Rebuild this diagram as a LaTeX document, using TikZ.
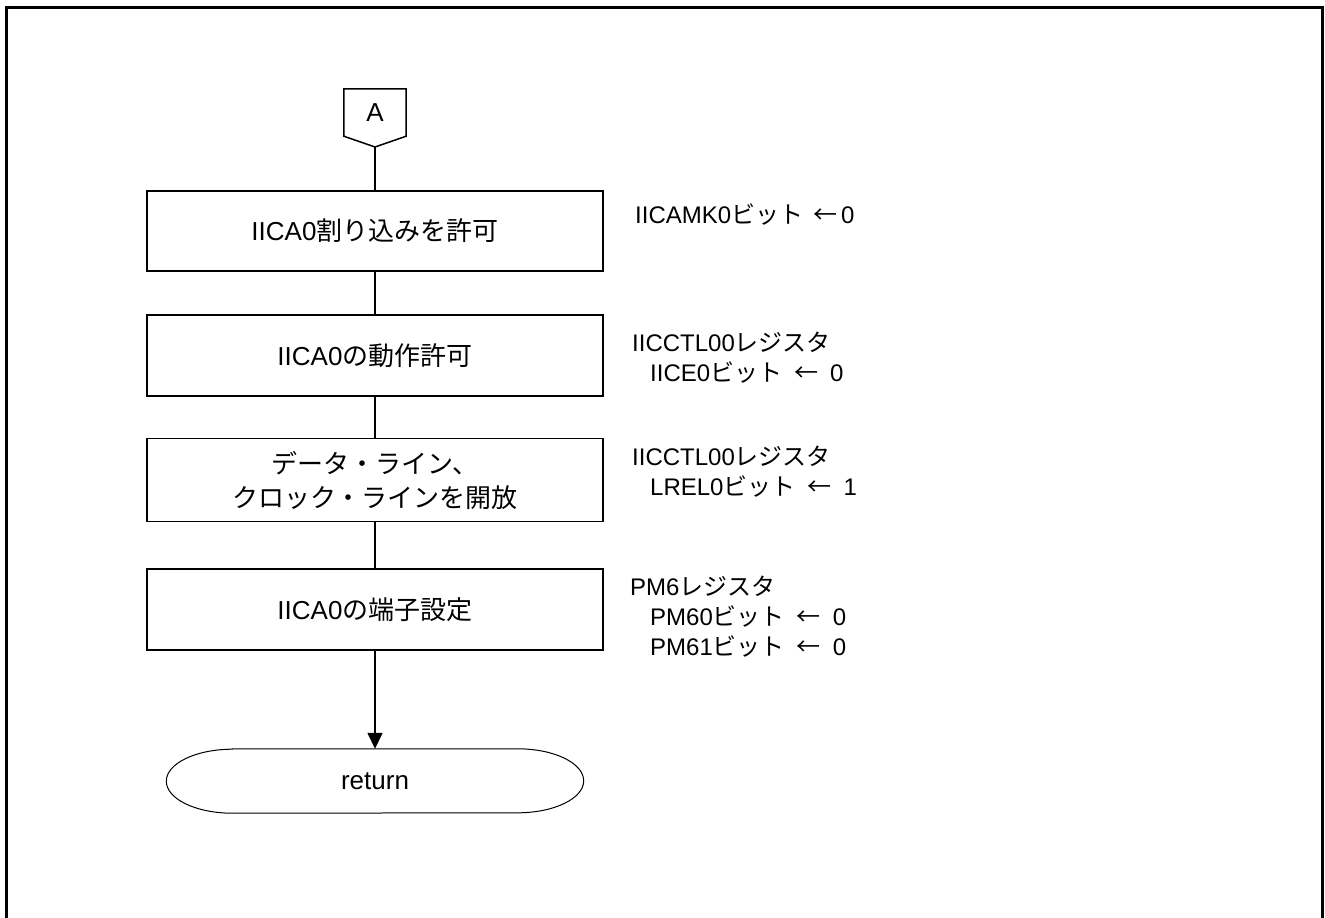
\documentclass[tikz,border=0pt]{standalone}
\usepackage{fontspec}
\setmainfont{Liberation Sans}
\newfontfamily\jp{Noto Sans CJK JP}
\usetikzlibrary{arrows.meta,calc}
\newcommand\J[1]{{\jp #1}}
\newcommand\Arr{\hspace{12pt}\J{←}\hspace{12pt}}
\begin{document}
\begin{tikzpicture}[x=1pt,y=-1pt,
  font=\fontsize{24}{30}\selectfont,
  proc/.style={draw, line width=1.5pt, minimum width=456pt, align=center, inner sep=0pt, font=\fontsize{26}{34}\selectfont},
  note/.style={anchor=west, align=left, inner sep=0pt},
  conn/.style={line width=1.5pt}]
\useasboundingbox (0,0) rectangle (1325,918);
\draw[line width=3pt] (6,930) -- (6,7) -- (1322.5,7) -- (1322.5,930);

% off-page connector A
\node[minimum width=62pt, minimum height=47pt, inner sep=0pt, font=\fontsize{26}{30}\selectfont] (A) at (375,112.5) {A};
\coordinate (Ap) at (375,147);
\draw[line width=1.5pt] (A.south west) -- (A.north west) -- (A.north east) -- (A.south east) -- (Ap) -- cycle;

% process boxes
\node[proc, minimum height=80pt] (b1) at (375,231) {IICA0\J{割り込みを許可}};
\node[proc, minimum height=81pt] (b2) at (375,355.5) {IICA0\J{の動作許可}};
\node[proc, minimum height=83pt] (b3) at (375,480) {\J{データ・ライン、}\\\J{クロック・ラインを開放}};
\node[proc, minimum height=81pt] (b4) at (375,609.5) {IICA0\J{の端子設定}};

% terminal
\node[minimum width=417pt, minimum height=64pt, inner sep=0pt, font=\fontsize{26}{30}\selectfont] (ret) at (375,781) {return};
\draw[line width=1pt] ($(ret.north west)+(66,0)$) -- ($(ret.north east)+(-66,0)$)
  arc[start angle=-90, end angle=90, x radius=66, y radius=32]
  -- ($(ret.south west)+(66,0)$)
  arc[start angle=90, end angle=270, x radius=66, y radius=32] -- cycle;

% connectors
\draw[conn] (Ap) -- (b1);
\draw[conn] (b1) -- (b2);
\draw[conn] (b2) -- (b3);
\draw[conn] (b3) -- (b4);
\draw[conn, -{Triangle[length=16pt, width=15pt]}] (b4) -- (ret);

% annotations
\node[note] (n1) at (635,215) {IICAMK0\J{ビット}\hspace{10pt}\J{←}\hspace{4pt}0};
\node[note] (n2) at (632,358) {IICCTL00\J{レジスタ}\\\hspace*{18pt}IICE0\J{ビット}\Arr 0};
\node[note] (n3) at (632,472) {IICCTL00\J{レジスタ}\\\hspace*{18pt}LREL0\J{ビット}\Arr 1};
\node[note] (n4) at (630,617) {PM6\J{レジスタ}\\\hspace*{20pt}PM60\J{ビット}\Arr 0\\\hspace*{20pt}PM61\J{ビット}\Arr 0};
\end{tikzpicture}
\end{document}
